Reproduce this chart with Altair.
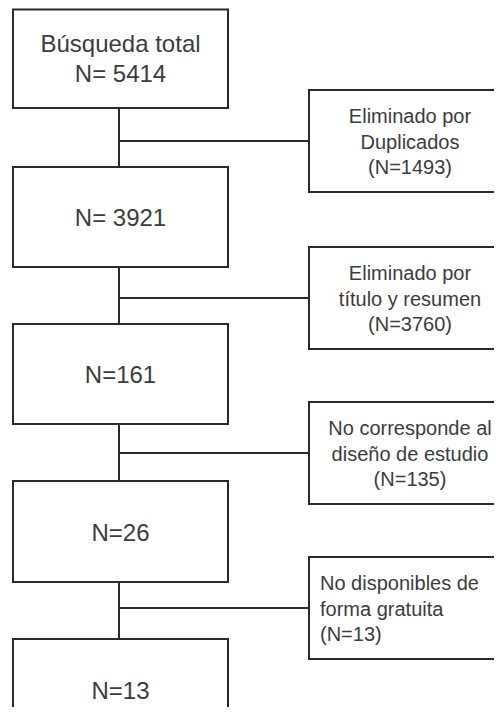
import altair as alt
import pandas as pd

# ---- content ----
main_titles = ["Búsqueda total", "", "", "", ""]
main_labels = ["N= 5414", "N= 3921", "N=161", "N=26", "N=13"]
excl_reasons = [
    ["Eliminado por", "Duplicados"],
    ["Eliminado por", "título y resumen"],
    ["No corresponde al", "diseño de estudio"],
    ["No disponibles de", "forma gratuita"],
]
excl_counts = ["(N=1493)", "(N=3760)", "(N=135)", "(N=13)"]
excl_align = ["center", "center", "center", "left"]

# ---- layout (pixels in the reference picture) ----
OFF = 8
XMAX, YMAX = 494, 707   # visible drawing limit inside the page margin
MX0, MX1 = 13, 228
main_tops = [9.5, 167, 324, 481, 639]
main_bots = [108, 267, 424, 582, 740]
EX0, EX1 = 309, 513
ex_tops = [90, 247, 402, 557]
EH = 102
SPINE = 119
LINE = "#2a2a2a"
TXT = "#3c3c3c"

boxes, rules, ltext, rtext = [], [], [], []
for i, t in enumerate(main_tops):
    b = main_bots[i]
    boxes.append(dict(x=MX0, x2=MX1, y=t, y2=b))
    cy = (t + b) / 2 if i else 57.5
    cx = (MX0 + MX1) / 2
    if main_titles[i]:
        ltext.append(dict(x=cx, y=cy + 9.5 - 15, t=main_titles[i]))
        ltext.append(dict(x=cx, y=cy + 9.5 + 15, t=main_labels[i]))
    else:
        ltext.append(dict(x=cx, y=cy + 9, t=main_labels[i]))
    if i + 1 < len(main_tops):
        rules.append(dict(x=SPINE, x2=SPINE, y=b, y2=main_tops[i + 1]))

for j, t in enumerate(ex_tops):
    boxes.append(dict(x=EX0, x2=EX1, y=t, y2=t + EH))
    cy = t + EH / 2
    rules.append(dict(x=SPINE, x2=EX0, y=cy, y2=cy))
    lines = excl_reasons[j] + [excl_counts[j]]
    for k, s in enumerate(lines):
        yy = cy + 7.5 + (k - 1) * 25.5
        if excl_align[j] == "left":
            rtext.append(dict(x=320, y=yy, t=s, a="left"))
        else:
            rtext.append(dict(x=410, y=yy, t=s, a="center"))

xs = alt.Scale(domain=[OFF, XMAX], range=[0, XMAX - OFF])
ys = alt.Scale(domain=[OFF, YMAX], reverse=True)
X = lambda f: alt.X(f, type="quantitative", scale=xs, axis=None)
Y = lambda f: alt.Y(f, type="quantitative", scale=ys, axis=None)

box_layer = alt.Chart(pd.DataFrame(boxes)).mark_rect(
    fill="white", stroke=LINE, strokeWidth=2, clip=True
).encode(x=X("x"), x2="x2", y=Y("y"), y2="y2")

rule_layer = alt.Chart(pd.DataFrame(rules)).mark_rule(
    color=LINE, strokeWidth=2
).encode(x=X("x"), x2="x2", y=Y("y"), y2="y2")

ltext_layer = alt.Chart(pd.DataFrame(ltext)).mark_text(
    font="Liberation Sans", fontSize=24, color=TXT, align="center", baseline="alphabetic"
).encode(x=X("x"), y=Y("y"), text="t:N")

rdf = pd.DataFrame(rtext)
rc_layer = alt.Chart(rdf[rdf.a == "center"]).mark_text(
    font="Liberation Sans", fontSize=20, color=TXT, align="center", baseline="alphabetic"
).encode(x=X("x"), y=Y("y"), text="t:N")
rl_layer = alt.Chart(rdf[rdf.a == "left"]).mark_text(
    font="Liberation Sans", fontSize=20, color=TXT, align="left", baseline="alphabetic"
).encode(x=X("x"), y=Y("y"), text="t:N")

chart = alt.layer(rule_layer, box_layer, ltext_layer, rc_layer, rl_layer).properties(
    width=XMAX - OFF, height=YMAX - OFF, padding=0, autosize=alt.AutoSizeParams(type="none"),
    background="white"
).configure_view(stroke=None)

chart.save("out.html", embed_options={"renderer": "svg", "actions": False})
